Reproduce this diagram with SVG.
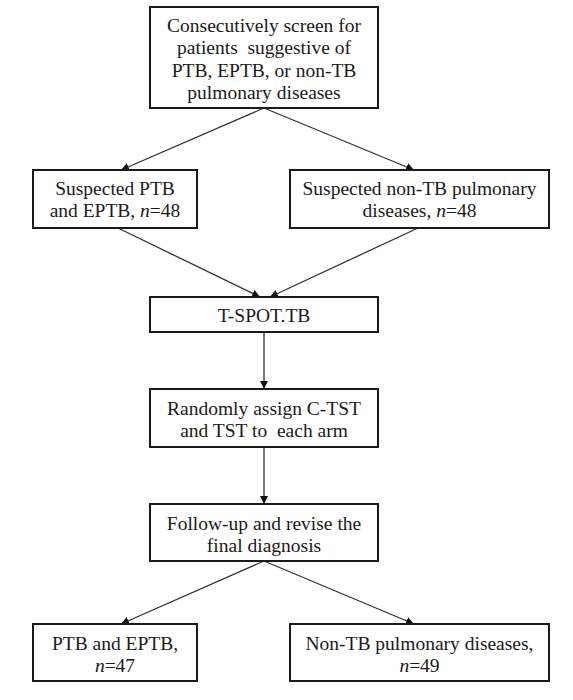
<svg xmlns="http://www.w3.org/2000/svg" width="573" height="700" viewBox="0 0 573 700">
<style>
.box{fill:#fff;stroke:#1a1a1a;stroke-width:2}
.t{font-family:"Liberation Serif","DejaVu Serif",serif;font-size:19.5px;fill:#1a1a1a;text-anchor:middle;white-space:pre}
.c{stroke:#333;stroke-width:1.3;fill:none;marker-end:url(#ah)}
</style>
<defs>
<marker id="ah" viewBox="0 0 10 10" refX="10" refY="5" markerWidth="8" markerHeight="8" markerUnits="userSpaceOnUse" orient="auto">
<path d="M0,0 L10,5 L0,10 Z" fill="#111"/>
</marker>
</defs>
<rect width="573" height="700" fill="#fff"/>
<g id="connectors">
<line class="c" x1="264" y1="108" x2="121" y2="170"/>
<line class="c" x1="264" y1="108" x2="414" y2="170"/>
<line class="c" x1="118" y1="228" x2="260" y2="297"/>
<line class="c" x1="418" y1="228" x2="270" y2="297"/>
<line class="c" x1="264" y1="332" x2="264" y2="389"/>
<line class="c" x1="264" y1="447" x2="264" y2="504"/>
<line class="c" x1="264" y1="561" x2="121" y2="624"/>
<line class="c" x1="264" y1="561" x2="414" y2="624"/>
</g>
<g id="screen">
<rect class="box" x="150" y="7" width="228" height="101"/>
<text class="t" x="264" y="32">Consecutively screen for</text>
<text class="t" x="264" y="54">patients  suggestive of</text>
<text class="t" x="264" y="77">PTB, EPTB, or non-TB</text>
<text class="t" x="264" y="99">pulmonary diseases</text>
</g>
<g id="suspected-ptb">
<rect class="box" x="33" y="170" width="164" height="58"/>
<text class="t" x="115" y="195">Suspected PTB</text>
<text class="t" x="115" y="217">and EPTB, <tspan font-style="italic">n</tspan>=48</text>
</g>
<g id="suspected-nontb">
<rect class="box" x="290" y="170" width="259" height="58"/>
<text class="t" x="419.5" y="195">Suspected non-TB pulmonary</text>
<text class="t" x="419.5" y="217">diseases, <tspan font-style="italic">n</tspan>=48</text>
</g>
<g id="tspot">
<rect class="box" x="150" y="297" width="228" height="35"/>
<text class="t" x="264" y="322">T-SPOT.TB</text>
</g>
<g id="randomly">
<rect class="box" x="150" y="389" width="228" height="58"/>
<text class="t" x="264" y="415">Randomly assign C-TST</text>
<text class="t" x="264" y="437">and TST to  each arm</text>
</g>
<g id="followup">
<rect class="box" x="150" y="504" width="228" height="57"/>
<text class="t" x="264" y="530">Follow-up and revise the</text>
<text class="t" x="264" y="552">final diagnosis</text>
</g>
<g id="ptb-final">
<rect class="box" x="33" y="624" width="164" height="57"/>
<text class="t" x="115" y="650">PTB and EPTB,</text>
<text class="t" x="115" y="672"><tspan font-style="italic">n</tspan>=47</text>
</g>
<g id="nontb-final">
<rect class="box" x="290" y="624" width="259" height="57"/>
<text class="t" x="419.5" y="650">Non-TB pulmonary diseases,</text>
<text class="t" x="419.5" y="672"><tspan font-style="italic">n</tspan>=49</text>
</g>
</svg>
